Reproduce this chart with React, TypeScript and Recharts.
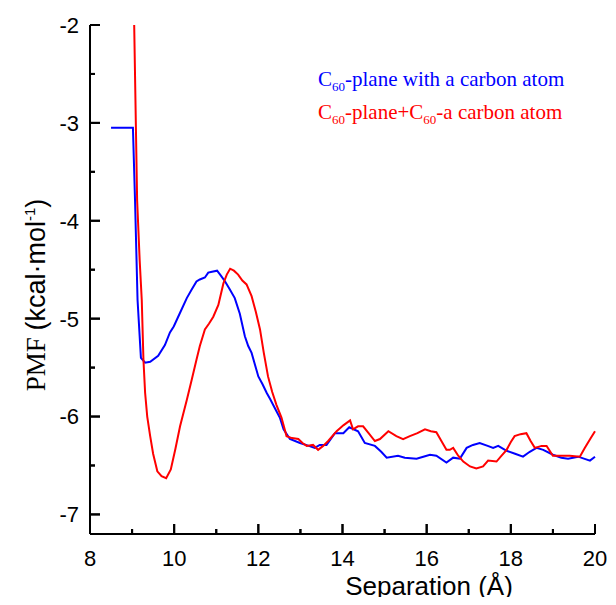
import React from "react";
import { LineChart, Line, XAxis, YAxis, ReferenceLine } from "recharts";

// Separation (Å) and PMF (kcal/mol)
const blueX = [
  8.5, 9.02, 9.07, 9.13, 9.21, 9.31, 9.43, 9.62, 9.78, 9.9, 9.99, 10.14, 10.3,
  10.42, 10.53, 10.61, 10.73, 10.81, 10.9, 11.02, 11.11, 11.21, 11.32, 11.44,
  11.56, 11.68, 11.76, 11.84, 11.92, 12.0, 12.1, 12.2, 12.28, 12.4, 12.51, 12.6,
  12.75, 12.99, 13.2, 13.34, 13.46, 13.62, 13.82, 14.02, 14.16, 14.37, 14.53,
  14.77, 14.92, 15.05, 15.32, 15.48, 15.76, 15.92, 16.08, 16.23, 16.47, 16.63,
  16.79, 16.95, 17.1, 17.26, 17.45, 17.58, 17.7, 17.9, 18.1, 18.29, 18.45,
  18.61, 18.77, 19.0, 19.2, 19.36, 19.6, 19.88, 20.0,
];
const blueY = [
  -3.05, -3.05, -3.79, -4.81, -5.4, -5.45, -5.44, -5.38, -5.27, -5.14, -5.08,
  -4.94, -4.79, -4.7, -4.62, -4.6, -4.58, -4.53, -4.52, -4.51, -4.56, -4.62,
  -4.7, -4.79, -4.95, -5.18, -5.28, -5.35, -5.47, -5.59, -5.67, -5.76, -5.82,
  -5.92, -6.01, -6.13, -6.23, -6.27, -6.3, -6.32, -6.29, -6.29, -6.17, -6.17,
  -6.11, -6.15, -6.27, -6.3, -6.36, -6.42, -6.4, -6.42, -6.43, -6.41, -6.39,
  -6.4, -6.47, -6.42, -6.43, -6.32, -6.29, -6.27, -6.3, -6.32, -6.3, -6.35,
  -6.38, -6.41, -6.36, -6.32, -6.34, -6.39, -6.42, -6.43, -6.41, -6.45, -6.41,
];

const redX = [
  9.05, 9.12, 9.18, 9.23, 9.27, 9.31, 9.36, 9.43, 9.5, 9.6, 9.7, 9.81, 9.92,
  10.03, 10.14, 10.3, 10.42, 10.53, 10.61, 10.73, 10.83, 10.93, 11.05, 11.17,
  11.25, 11.33, 11.42, 11.52, 11.62, 11.72, 11.84, 11.94, 12.04, 12.13, 12.23,
  12.33, 12.43, 12.55, 12.67, 12.8, 12.95, 13.05, 13.15, 13.3, 13.42, 13.54,
  13.66, 13.86, 14.02, 14.18, 14.25, 14.37, 14.49, 14.62, 14.77, 14.89, 15.09,
  15.28, 15.44, 15.6, 15.78, 15.96, 16.1, 16.23, 16.35, 16.47, 16.55, 16.63,
  16.75, 16.87, 17.03, 17.18, 17.34, 17.46, 17.66, 17.78, 17.9, 18.0, 18.09,
  18.23, 18.37, 18.47, 18.57, 18.73, 18.85, 19.0, 19.2, 19.4, 19.64, 19.76,
  19.9, 20.0,
];
const redY = [
  -2.0, -3.79, -4.4, -4.81, -5.42, -5.76, -6.0, -6.2, -6.38, -6.56, -6.61,
  -6.63, -6.54, -6.33, -6.1, -5.83, -5.62, -5.42, -5.28, -5.11, -5.05, -4.98,
  -4.86, -4.64, -4.55, -4.49, -4.51, -4.55, -4.61, -4.65, -4.77, -4.93, -5.11,
  -5.35, -5.59, -5.75, -5.88, -6.01, -6.2, -6.22, -6.23, -6.27, -6.3, -6.29,
  -6.34, -6.3, -6.25, -6.15, -6.09, -6.04, -6.13, -6.1, -6.1, -6.17, -6.25,
  -6.23, -6.15, -6.2, -6.23, -6.2, -6.17, -6.13, -6.15, -6.16, -6.25, -6.34,
  -6.34, -6.32, -6.4, -6.46, -6.51, -6.53, -6.51, -6.45, -6.46, -6.4, -6.34,
  -6.26, -6.2, -6.18, -6.17, -6.25, -6.32, -6.3, -6.3, -6.4, -6.4, -6.4,
  -6.41, -6.32, -6.22, -6.15,
];

const xTicks = [8, 9, 10, 11, 12, 13, 14, 15, 16, 17, 18, 19, 20];
const yTicks = [-7, -6.5, -6, -5.5, -5, -4.5, -4, -3.5, -3, -2.5, -2];

const X_DOMAIN = [8, 20];
const Y_DOMAIN = [-7.2, -2];

const blueData = blueX.map((x, i) => ({ x, y: blueY[i] }));
const redData = redX.map((x, i) => ({ x, y: redY[i] }));

const SANS = "'Liberation Sans', Arial, sans-serif";
const SERIF = "'Liberation Serif', 'Times New Roman', serif";

// plot box size in px, used to turn inward tick lengths into axis units
const PLOT_W = 505;
const PLOT_H = 509;
const yPx = (px: number) => (px * (Y_DOMAIN[1] - Y_DOMAIN[0])) / PLOT_H;
const xPx = (px: number) => (px * (X_DOMAIN[1] - X_DOMAIN[0])) / PLOT_W;

// tick = filled bar pointing into the plot + label on the even values
const XTick = (props: any) => {
  const x = Number(props.x);
  const y = Number(props.y);
  const v = props.payload.value;
  const major = v % 2 === 0;
  const len = major ? 10 : 5;
  return (
    <g>
      <rect x={x - 1} y={y - len} width={2} height={len} fill="#000" />
      {major && (
        <text x={x} y={y + 32} textAnchor="middle" fontSize={22} fontFamily={SANS} fill="#000">
          {v}
        </text>
      )}
    </g>
  );
};

const YTick = (props: any) => {
  const x = Number(props.x);
  const y = Number(props.y);
  const v = props.payload.value;
  const major = Number.isInteger(v);
  const len = major ? 10 : 5;
  return (
    <g>
      <rect x={x} y={y - 1} width={len} height={2} fill="#000" />
      {major && (
        <text x={x - 11} y={y} dy="0.36em" textAnchor="end" fontSize={22} fontFamily={SANS} fill="#000">
          {v}
        </text>
      )}
    </g>
  );
};

export default function App() {
  return (
    <div style={{ position: "relative", width: 600, height: 589 }}>
      <LineChart width={600} height={589} margin={{ top: 17, right: 13, left: 0, bottom: 0 }}>
        <XAxis
          dataKey="x"
          type="number"
          domain={X_DOMAIN}
          ticks={xTicks}
          interval={0}
          height={63}
          tickSize={0}
          tickMargin={0}
          tickLine={false}
          tick={XTick}
          axisLine={{ stroke: "#000", strokeWidth: 2 }}
        />
        <XAxis
          xAxisId="top"
          orientation="top"
          type="number"
          domain={X_DOMAIN}
          height={0}
          tick={false}
          tickLine={false}
          axisLine={{ stroke: "#000", strokeWidth: 2 }}
        />
        <YAxis
          type="number"
          domain={Y_DOMAIN}
          ticks={yTicks}
          interval={0}
          width={82}
          allowDataOverflow
          tickSize={0}
          tickMargin={0}
          tickLine={false}
          tick={YTick}
          axisLine={{ stroke: "#000", strokeWidth: 2 }}
        />
        <YAxis
          yAxisId="right"
          orientation="right"
          type="number"
          domain={Y_DOMAIN}
          width={0}
          tick={false}
          tickLine={false}
          axisLine={{ stroke: "#000", strokeWidth: 2 }}
        />

        {/* inward tick marks again as segments, in case the axis layer hides them */}
        {xTicks.map((t) => (
          <ReferenceLine
            key={`xt-${t}`}
            ifOverflow="visible"
            segment={[
              { x: t, y: Y_DOMAIN[0] },
              { x: t, y: Y_DOMAIN[0] + yPx(t % 2 === 0 ? 10 : 5) },
            ]}
            stroke="#000"
            strokeWidth={2}
          />
        ))}
        {yTicks.map((t) => (
          <ReferenceLine
            key={`yt-${t}`}
            ifOverflow="visible"
            segment={[
              { x: X_DOMAIN[0], y: t },
              { x: X_DOMAIN[0] + xPx(Number.isInteger(t) ? 10 : 5), y: t },
            ]}
            stroke="#000"
            strokeWidth={2}
          />
        ))}

        <Line
          data={blueData}
          dataKey="y"
          stroke="#0000FF"
          strokeWidth={2}
          dot={false}
          type="linear"
          isAnimationActive={false}
        />
        <Line
          data={redData}
          dataKey="y"
          stroke="#FF0000"
          strokeWidth={2}
          dot={false}
          type="linear"
          isAnimationActive={false}
        />
      </LineChart>

      {/* titles and legend */}
      <svg
        width={600}
        height={589}
        style={{ position: "absolute", left: 0, top: 0, overflow: "visible", pointerEvents: "none" }}
      >
        <text x={310} y={78} fontFamily={SERIF} fontSize={21} fill="#0000FF">
          C<tspan fontSize={13} dy={5}>60</tspan>
          <tspan dy={-5}>-plane with a carbon atom</tspan>
        </text>
        <text x={310} y={111} fontFamily={SERIF} fontSize={21} fill="#FF0000">
          C<tspan fontSize={13} dy={5}>60</tspan>
          <tspan dy={-5}>-plane+C</tspan>
          <tspan fontSize={13} dy={5}>60</tspan>
          <tspan dy={-5}>-a carbon atom</tspan>
        </text>
        <text x={421} y={587} textAnchor="middle" fontFamily={SANS} fontSize={26} fill="#000">
          Separation (Å)
        </text>
        <text
          transform="translate(37, 287) rotate(-90)"
          textAnchor="middle"
          fontSize={27}
          fill="#000"
        >
          <tspan fontFamily={SERIF}>PMF </tspan>
          <tspan fontFamily={SANS}>(kcal·mol</tspan>
          <tspan fontFamily={SANS} fontSize={15} dy={-10}>-1</tspan>
          <tspan fontFamily={SANS} dy={10}>)</tspan>
        </text>
      </svg>
    </div>
  );
}
